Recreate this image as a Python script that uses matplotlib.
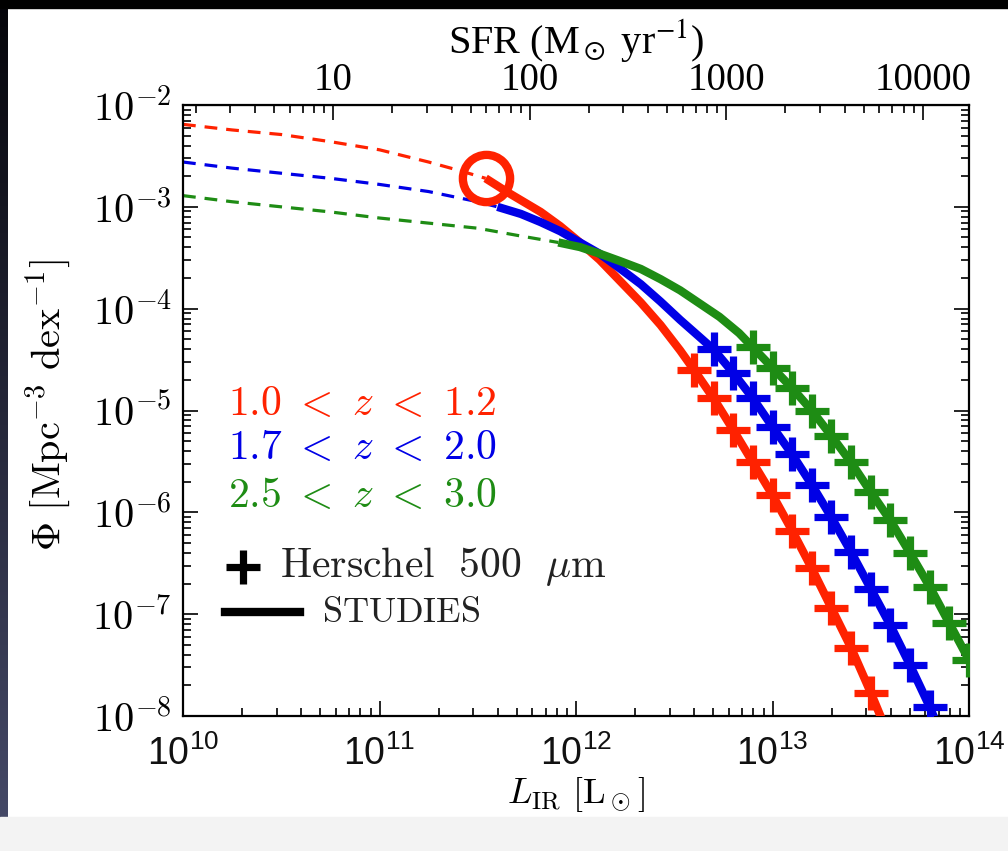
import numpy as np
import matplotlib
matplotlib.use("Agg")
import matplotlib.pyplot as plt
from matplotlib.ticker import LogLocator, NullFormatter
from matplotlib.lines import Line2D
from matplotlib.patches import Rectangle

plt.rcParams['mathtext.fontset'] = 'cm'

# --- data: log10(L_IR / Lsun) and log10(Phi) ---
# 1.0 < z < 1.2 (red)
red_dash_logL = [10.0, 10.25, 10.5, 10.75, 11.0, 11.25, 11.4, 11.54]
red_dash_logphi = [-2.19, -2.245, -2.29, -2.36, -2.44, -2.56, -2.64, -2.72]
red_line_logL = [11.54, 11.65, 11.82, 11.92, 12.02, 12.12, 12.22, 12.33, 12.43, 12.53, 12.6,
                 12.7, 12.8, 12.9, 13.0, 13.1, 13.2, 13.3, 13.4, 13.5, 13.56]
red_line_logphi = [-2.72, -2.855, -3.05, -3.19, -3.35, -3.52, -3.72, -3.94, -4.16, -4.41, -4.60,
                   -4.88, -5.19, -5.51, -5.83, -6.18, -6.55, -6.94, -7.33, -7.77, -8.05]
red_pts_logL = [12.6, 12.7, 12.8, 12.9, 13.0, 13.1, 13.2, 13.3, 13.4, 13.5]
red_pts_logphi = [-4.60, -4.88, -5.19, -5.51, -5.83, -6.18, -6.55, -6.94, -7.33, -7.77]
knee_logL = 11.54
knee_logphi = -2.72

# 1.7 < z < 2.0 (blue)
blue_dash_logL = [10.0, 10.25, 10.5, 10.75, 11.0, 11.25, 11.5, 11.6]
blue_dash_logphi = [-2.56, -2.62, -2.67, -2.72, -2.78, -2.85, -2.95, -3.0]
blue_line_logL = [11.6, 11.72, 11.82, 11.92, 12.02, 12.12, 12.22, 12.33, 12.43, 12.53, 12.63,
                  12.7, 12.8, 12.9, 13.0, 13.1, 13.2, 13.3, 13.4, 13.5, 13.6, 13.7, 13.8, 13.83]
blue_line_logphi = [-3.0, -3.07, -3.15, -3.24, -3.35, -3.46, -3.60, -3.76, -3.93, -4.11, -4.28,
                    -4.40, -4.63, -4.88, -5.16, -5.43, -5.73, -6.05, -6.39, -6.75, -7.11, -7.50,
                    -7.91, -8.05]
blue_pts_logL = [12.7, 12.8, 12.9, 13.0, 13.1, 13.2, 13.3, 13.4, 13.5, 13.6, 13.7, 13.8]
blue_pts_logphi = [-4.40, -4.63, -4.88, -5.16, -5.43, -5.73, -6.05, -6.39, -6.75, -7.11, -7.50, -7.91]

# 2.5 < z < 3.0 (green)
green_dash_logL = [10.0, 10.25, 10.5, 10.75, 11.0, 11.25, 11.5, 11.7, 11.91]
green_dash_logphi = [-2.89, -2.95, -3.00, -3.05, -3.11, -3.16, -3.21, -3.28, -3.35]
green_line_logL = [11.91, 12.02, 12.12, 12.22, 12.33, 12.43, 12.53, 12.63, 12.73, 12.83,
                   12.9, 13.0, 13.1, 13.2, 13.3, 13.4, 13.5, 13.6, 13.7, 13.8, 13.9, 14.0]
green_line_logphi = [-3.35, -3.395, -3.46, -3.53, -3.61, -3.71, -3.82, -3.95, -4.08, -4.24,
                     -4.38, -4.58, -4.78, -5.00, -5.25, -5.51, -5.80, -6.08, -6.40, -6.73,
                     -7.09, -7.45]
green_pts_logL = [12.9, 13.0, 13.1, 13.2, 13.3, 13.4, 13.5, 13.6, 13.7, 13.8, 13.9, 14.0]
green_pts_logphi = [-4.38, -4.58, -4.78, -5.00, -5.25, -5.51, -5.80, -6.08, -6.40, -6.73, -7.09, -7.45]

labels = [r"$1.0\ <\ z\ <\ 1.2$", r"$1.7\ <\ z\ <\ 2.0$", r"$2.5\ <\ z\ <\ 3.0$"]
colors = ['#ff2200', '#0000e6', '#1e8c14']

x_ticks = [1e10, 1e11, 1e12, 1e13, 1e14]
x_ticklabels = [r"$\mathdefault{10^{10}}$", r"$\mathdefault{10^{11}}$", r"$\mathdefault{10^{12}}$",
                r"$\mathdefault{10^{13}}$", r"$\mathdefault{10^{14}}$"]
y_ticks = [1e-8, 1e-7, 1e-6, 1e-5, 1e-4, 1e-3, 1e-2]
y_ticklabels = [r"$10^{-8}$", r"$10^{-7}$", r"$10^{-6}$", r"$10^{-5}$", r"$10^{-4}$",
                r"$10^{-3}$", r"$10^{-2}$"]
sfr_ticks = [10, 100, 1000, 10000]
sfr_ticklabels = ['10', '100', '1000', '10000']
sfr_factor = 1.72e-10  # Kennicutt conversion L_IR -> SFR


def lin(v):
    return 10 ** np.asarray(v)


fig = plt.figure(figsize=(10.08, 8.51), dpi=100)
fig.patch.set_facecolor('white')

# dark frame around the slide screenshot
fig.patches.append(Rectangle((0, 1 - 8 / 851), 1, 8 / 851, transform=fig.transFigure,
                             color='black', zorder=0))
fig.patches.append(Rectangle((0, 0), 1, 34 / 851, transform=fig.transFigure,
                             color='#f3f3f3', zorder=0))
grad_ax = fig.add_axes([0, 0, 8 / 1008, 1])
grad = np.linspace(0, 1, 256).reshape(-1, 1)
grad_ax.imshow(grad, aspect='auto', cmap=matplotlib.colors.LinearSegmentedColormap.from_list(
    'edge', ['#05050a', '#474b6a']), origin='upper')
grad_ax.axis('off')

ax = fig.add_axes([183 / 1008, 1 - 716 / 851, 786 / 1008, 611 / 851])

series = [
    (red_dash_logL, red_dash_logphi, red_line_logL, red_line_logphi, red_pts_logL, red_pts_logphi),
    (blue_dash_logL, blue_dash_logphi, blue_line_logL, blue_line_logphi, blue_pts_logL, blue_pts_logphi),
    (green_dash_logL, green_dash_logphi, green_line_logL, green_line_logphi, green_pts_logL, green_pts_logphi),
]
for (dl, dp, ll, lp, pl, pp), c in zip(series, colors):
    ax.plot(lin(dl), lin(dp), color=c, lw=2.3, ls=(0, (4, 2.8)), zorder=2)
    ax.plot(lin(ll), lin(lp), color=c, lw=6, solid_capstyle='butt', solid_joinstyle='round',
            zorder=3)
    ax.plot(lin(pl), lin(pp), ls='none', marker='+', ms=24, mew=5.2, color=c, zorder=4)

ax.plot(lin([knee_logL]), lin([knee_logphi]), ls='none', marker='o', ms=34, mew=6,
        mfc='none', mec=colors[0], zorder=5)

ax.set_xscale('log')
ax.set_yscale('log')
ax.set_xlim(1e10, 1e14)
ax.set_ylim(1e-8, 1e-2)

ax.set_xticks(x_ticks, labels=x_ticklabels)
ax.set_yticks(y_ticks, labels=y_ticklabels)
ax.xaxis.set_minor_locator(LogLocator(base=10, subs=np.arange(2, 10), numticks=50))
ax.yaxis.set_minor_locator(LogLocator(base=10, subs=np.arange(2, 10), numticks=50))
ax.xaxis.set_minor_formatter(NullFormatter())
ax.yaxis.set_minor_formatter(NullFormatter())
ax.tick_params(which='both', direction='in', top=False, right=True, width=1.2, color='black')
ax.tick_params(which='major', length=11)
ax.tick_params(which='minor', length=5.5)
ax.tick_params(axis='x', which='major', labelsize=27, pad=14)
ax.tick_params(axis='y', which='major', labelsize=29, pad=8)
for lbl in ax.get_xticklabels():
    lbl.set_family('Liberation Sans')
    lbl.set_color('#111111')
for sp in ax.spines.values():
    sp.set_linewidth(1.6)

secax = ax.secondary_xaxis('top', functions=(lambda L: L * sfr_factor, lambda s: s / sfr_factor))
secax.set_xticks(sfr_ticks, labels=sfr_ticklabels)
secax.xaxis.set_minor_locator(LogLocator(base=10, subs=np.arange(2, 10), numticks=50))
secax.xaxis.set_minor_formatter(NullFormatter())
secax.tick_params(which='both', direction='in', width=1.2)
secax.tick_params(which='major', length=11, labelsize=28, pad=4)
secax.tick_params(which='minor', length=5.5)
for lbl in secax.get_xticklabels():
    lbl.set_family('Liberation Serif')

fig.text(0.571, 1 - 40 / 851, r"SFR (M$_\odot$ yr$^{-1}$)", family='Liberation Serif',
         math_fontfamily='stix', fontsize=29, ha='center', va='center')
fig.text(0.571, 1 - 795 / 851, r"$L_{\rm IR}\ [\mathrm{L}_\odot]$", fontsize=26,
         ha='center', va='center')
fig.text(48 / 1008, 1 - 405 / 851, r"$\Phi\ [\mathrm{Mpc}^{-3}\ \mathrm{dex}^{-1}]$",
         fontsize=29, rotation=90, ha='center', va='center')

# annotations / legend inside the panel
for lab, c, yy in zip(labels, colors, [0.512, 0.440, 0.362]):
    ax.text(0.057, yy, lab, color=c, fontsize=30, transform=ax.transAxes, va='center')

ax.plot([0.076], [0.244], marker='+', ms=24, mew=5.2, color='black', transform=ax.transAxes)
ax.text(0.123, 0.244, r"$\mathrm{Herschel}\ \ \mathrm{500}\ \ \mu\mathrm{m}$", fontsize=30,
        color='#222222', transform=ax.transAxes, va='center')
ax.add_line(Line2D([0.053, 0.149], [0.170, 0.170], color='black', lw=6,
                   transform=ax.transAxes))
ax.text(0.177, 0.170, r"$\mathrm{STUDIES}$", fontsize=26, color='#222222',
        transform=ax.transAxes, va='center')

fig.savefig('out.png', dpi=100)
